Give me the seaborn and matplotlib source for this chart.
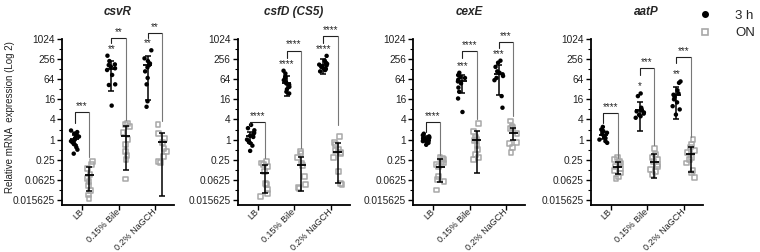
import numpy as np
import pandas as pd
import matplotlib
matplotlib.use("Agg")
import matplotlib.pyplot as plt
from matplotlib.lines import Line2D
from matplotlib.ticker import FixedLocator, NullFormatter
from matplotlib.transforms import ScaledTranslation
import seaborn as sns

# ---------------- data ----------------
genes = ["csvR", "csfD (CS5)", "cexE", "aatP"]
conditions = ["LB", "0.15% Bile", "0.2% NaGCH"]
times = ["3 h", "ON"]
ytick_values = [1024, 256, 64, 16, 4, 1, 0.25, 0.0625, 0.015625]
ytick_labels = ["1024", "256", "64", "16", "4", "1", "0.25", "0.0625", "0.015625"]

csvR_3h = [[1.87, 1.68, 1.52, 1.37, 1.23, 1.11, 1.0, 0.9, 0.81, 0.71, 0.59, 0.5, 0.38],
           [324, 224, 178, 170, 152, 136, 121, 86, 45, 43, 10.4],
           [470, 270, 224, 190, 170, 145, 110, 70, 45, 14, 9.6]]
csvR_ON = [[0.22, 0.18, 0.134, 0.092, 0.07, 0.056, 0.042, 0.03, 0.022, 0.017],
           [3.0, 2.8, 2.4, 1.6, 1.0, 0.7, 0.45, 0.33, 0.25, 0.066],
           [2.9, 1.55, 1.1, 0.8, 0.55, 0.44, 0.31, 0.22, 0.21]]
csfD_3h = [[2.75, 2.2, 1.9, 1.6, 1.45, 1.3, 1.2, 1.0, 0.9, 0.8, 0.66, 0.46],
           [115, 95, 78, 68, 60, 52, 48, 44, 38, 32, 27, 24],
           [320, 230, 200, 185, 175, 165, 150, 140, 130, 120, 110]]
csfD_ON = [[0.22, 0.2, 0.18, 0.16, 0.11, 0.05, 0.045, 0.032, 0.025, 0.02],
           [0.45, 0.38, 0.29, 0.2, 0.17, 0.08, 0.045, 0.038, 0.035],
           [1.22, 0.8, 0.7, 0.5, 0.46, 0.42, 0.38, 0.3, 0.11, 0.048, 0.046]]
cexE_3h = [[1.5, 1.35, 1.25, 1.15, 1.1, 1.05, 1.0, 0.95, 0.9, 0.85, 0.8, 0.7],
           [100, 85, 75, 70, 62, 55, 48, 36, 27, 17, 6.7],
           [230, 200, 150, 110, 100, 90, 80, 70, 60, 20, 9]]
cexE_ON = [[0.3, 0.27, 0.25, 0.22, 0.2, 0.18, 0.16, 0.08, 0.065, 0.055, 0.031],
           [3.1, 1.7, 1.15, 1.0, 0.95, 0.65, 0.5, 0.35, 0.3, 0.25],
           [3.6, 2.5, 2.3, 2.1, 1.5, 0.8, 0.75, 0.58, 0.4]]
aatP_3h = [[2.4, 2.0, 1.8, 1.6, 1.45, 1.3, 1.2, 1.1, 1.0, 0.9, 0.8],
           [24, 20, 9, 8, 7.5, 7, 6.5, 6, 5.5, 5, 4.5],
           [55, 50, 30, 24, 22, 19, 16, 13, 10, 8, 5.6]]
aatP_ON = [[0.29, 0.26, 0.23, 0.2, 0.18, 0.16, 0.14, 0.12, 0.1, 0.08, 0.07],
           [0.55, 0.35, 0.3, 0.25, 0.22, 0.18, 0.16, 0.13, 0.11, 0.09],
           [1.0, 0.7, 0.6, 0.48, 0.4, 0.3, 0.25, 0.2, 0.12, 0.1, 0.075]]

# mean and SD drawn as error bars (per gene: LB, Bile, NaGCH)
mean_3h = [[1.03, 128, 165], [1.25, 50, 172], [1.05, 55, 95], [1.38, 7.8, 21]]
sd_3h = [[0.34, 100, 150], [0.45, 30, 78], [0.2, 30, 74], [0.35, 6, 17]]
mean_ON = [[0.09, 1.3, 0.82], [0.1, 0.17, 0.42], [0.155, 0.95, 1.55], [0.155, 0.22, 0.36]]
sd_ON = [[0.06, 1.18, 0.8], [0.075, 0.14, 0.37], [0.1, 0.85, 0.6], [0.06, 0.15, 0.25]]

# significance labels
sig_pair = [["***", "**", "**"], ["****", "****", "****"],
            ["****", "****", "***"], ["****", "***", "***"]]
sig_vs_LB = [["", "**", "**"], ["", "****", "****"],
             ["", "***", "***"], ["", "*", "**"]]
# bracket levels (top, left-leg end, right-leg end)
bracket_top = [[6.6, 1120, 1520], [3.36, 461, 1260], [3.25, 446, 832], [6.1, 136, 304]]
bracket_left = [[3.07, 760, 1075], [2.73, 270, 760], [1.66, 274, 549], [3.07, 85.6, 193]]
bracket_right = [[0.31, 3.86, 3.5], [0.28, 0.55, 2.75], [0.35, 4.14, 5.2], [0.29, 0.69, 1.23]]

points_3h = [csvR_3h, csfD_3h, cexE_3h, aatP_3h]
points_ON = [csvR_ON, csfD_ON, cexE_ON, aatP_ON]

# ---------------- style ----------------
sns.set_theme(style="ticks")
plt.rcParams["font.family"] = ["Liberation Sans", "DejaVu Sans"]
plt.rcParams["axes.linewidth"] = 1.3
np.random.seed(7)  # reproducible horizontal jitter of the dots

BLACK = "#000000"
GRAY = "#a8a8a8"
palette = {"3 h": BLACK, "ON": GRAY}
DODGE = 0.2

fig = plt.figure(figsize=(7.6, 2.52), dpi=100)
FW, FH = 760.0, 252.0
lefts_px = [62, 237.5, 413, 590.5]
ax_w_px = 112
ax_bottom_px = 205
ax_top_px = 39
label_shift = ScaledTranslation(-3.5 / 100, 1.0 / 100, fig.dpi_scale_trans)

for g, gene in enumerate(genes):
    ax = fig.add_axes([lefts_px[g] / FW, 1 - ax_bottom_px / FH,
                       ax_w_px / FW, (ax_bottom_px - ax_top_px) / FH])
    ax.set_yscale("log", base=2)

    rows = []
    for t, pts in zip(times, [points_3h[g], points_ON[g]]):
        for c, vals in zip(conditions, pts):
            for v in vals:
                rows.append({"condition": c, "time": t, "value": v})
    df = pd.DataFrame(rows)

    sns.stripplot(data=df[df["time"] == "3 h"], x="condition", y="value",
                  hue="time", order=conditions, hue_order=times, dodge=True,
                  jitter=0.24, palette=palette, size=3.2, marker="o",
                  linewidth=0, legend=False, ax=ax, zorder=3)
    n0 = len(ax.collections)
    sns.stripplot(data=df[df["time"] == "ON"], x="condition", y="value",
                  hue="time", order=conditions, hue_order=times, dodge=True,
                  jitter=0.24, palette=palette, size=3.5, marker="s",
                  linewidth=1.0, legend=False, ax=ax, zorder=3)
    for coll in ax.collections[n0:]:
        coll.set_facecolor("none")
        coll.set_edgecolor(GRAY)
        coll.set_linewidth(1.1)

    # mean +/- SD
    for t, means, sds, off in [("3 h", mean_3h[g], sd_3h[g], -DODGE),
                               ("ON", mean_ON[g], sd_ON[g], DODGE)]:
        for i in range(len(conditions)):
            x = i + off
            m, s = means[i], sds[i]
            ax.errorbar([x], [m], yerr=[[s], [s]], fmt="none", ecolor=BLACK,
                        elinewidth=1.1, capsize=2.4, capthick=1.1, zorder=4)
            ax.hlines(m, x - 0.12, x + 0.12, color=BLACK, lw=1.3, zorder=4)

    # brackets and stars
    for i in range(len(conditions)):
        x0, x1 = i - DODGE, i + DODGE
        top = bracket_top[g][i]
        ax.plot([x0, x0, x1], [bracket_left[g][i], top, top], color="#222222",
                lw=0.8, clip_on=False, zorder=5)
        ax.plot([x1, x1], [top, bracket_right[g][i]], color="#777777",
                lw=0.8, clip_on=False, zorder=5)
        ax.text(i, top * 2 ** 0.6, sig_pair[g][i], ha="center", va="center",
                fontsize=7, clip_on=False)
        if sig_vs_LB[g][i]:
            ymax = max(points_3h[g][i])
            ax.text(x0, ymax * 2 ** 0.7, sig_vs_LB[g][i], ha="center",
                    va="center", fontsize=7, clip_on=False)

    # axes
    ax.set_ylim(2 ** -6.5, 1024)
    ax.set_xlim(-0.55, 2.52)
    ax.yaxis.set_major_locator(FixedLocator(ytick_values))
    ax.set_yticklabels(ytick_labels)
    ax.yaxis.set_minor_locator(FixedLocator([2.0 ** k for k in range(-5, 10, 2)]))
    ax.yaxis.set_minor_formatter(NullFormatter())
    ax.set_xticks(range(len(conditions)))
    ax.set_xticklabels(conditions, rotation=45, ha="right", va="center",
                       rotation_mode="anchor", fontsize=6.5)
    for lab in ax.get_xticklabels():
        lab.set_transform(lab.get_transform() + label_shift)
    ax.tick_params(axis="y", which="major", length=3.5, width=1.0,
                   labelsize=7.3, pad=1.5, color=BLACK, labelcolor="#222222")
    ax.tick_params(axis="x", which="major", length=3.5, width=1.0,
                   pad=0.6, color=BLACK, labelcolor="#222222")
    ax.tick_params(axis="y", which="minor", length=2, width=0.8, color=BLACK)
    ax.set_xlabel("")
    ax.set_ylabel("")
    for sp in ["left", "bottom"]:
        ax.spines[sp].set_linewidth(1.3)
        ax.spines[sp].set_color(BLACK)
    sns.despine(ax=ax)

    ax.text(0.5, 1.163, gene, transform=ax.transAxes, ha="center", va="center",
            fontsize=8.5, fontweight="bold", fontstyle="italic")

fig.text(10 / FW, 0.536, "Relative mRNA  expression (Log 2)", rotation=90,
         ha="center", va="center", fontsize=7, color="#222222")

handles = [Line2D([], [], marker="o", ls="", color=BLACK, markersize=4),
           Line2D([], [], marker="s", ls="", markerfacecolor="none",
                  markeredgecolor=GRAY, markeredgewidth=1.2, markersize=4.2)]
fig.legend(handles, times, loc="upper left", bbox_to_anchor=(687 / FW, 1.008),
           frameon=False, fontsize=9.5, handlelength=1.0, handletextpad=1.77,
           labelspacing=0.38, borderpad=0.4)

fig.savefig("out.png", dpi=100)
